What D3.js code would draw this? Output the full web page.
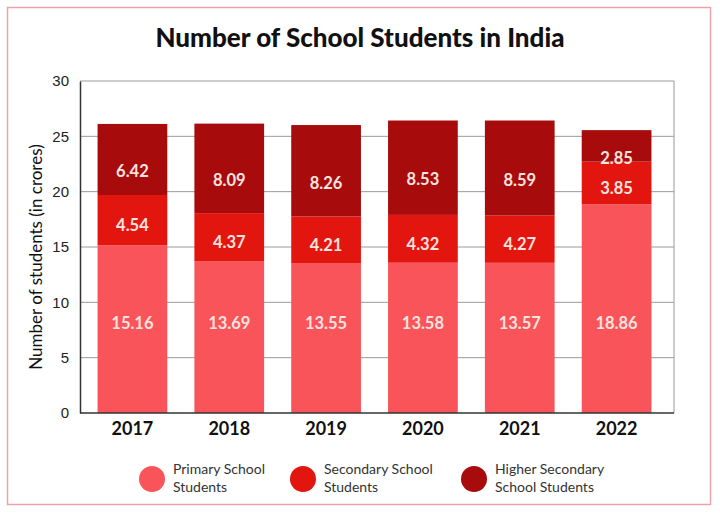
<!DOCTYPE html>
<html>
<head>
<meta charset="utf-8">
<script src="https://cdn.jsdelivr.net/npm/d3@7"></script>
<style>
  body { margin: 0; background: #fff; }
  text { font-family: Lato, "Open Sans", sans-serif; }
</style>
</head>
<body>
<div id="chart"></div>
<script>
var years = ["2017", "2018", "2019", "2020", "2021", "2022"];
var primary = [15.16, 13.69, 13.55, 13.58, 13.57, 18.86];
var secondary = [4.54, 4.37, 4.21, 4.32, 4.27, 3.85];
var higher = [6.42, 8.09, 8.26, 8.53, 8.59, 2.85];
var yTicks = [0, 5, 10, 15, 20, 25, 30];

var seriesNames = ["Primary School Students", "Secondary School Students", "Higher Secondary School Students"];
var legendLines = [["Primary School", "Students"], ["Secondary School", "Students"], ["Higher Secondary", "School Students"]];
var colors = ["#f9545a", "#e3150f", "#a80b0c"];

var width = 720, height = 513;
var plot = {left: 80, right: 674, top: 81, bottom: 413};

var svg = d3.select("#chart").append("svg")
  .attr("width", width)
  .attr("height", height);

// outer pink frame
svg.append("rect")
  .attr("x", 7.5).attr("y", 7.5)
  .attr("width", 703).attr("height", 497)
  .attr("fill", "none")
  .attr("stroke", "#eea3aa")
  .attr("stroke-width", 1.5);

svg.append("text")
  .attr("x", 360).attr("y", 47)
  .attr("text-anchor", "middle")
  .attr("font-size", 26)
  .attr("font-weight", 900)
  .attr("fill", "#111")
  .text("Number of School Students in India");

var x = d3.scaleBand()
  .domain(years)
  .range([84, 665])
  .paddingInner(0.28)
  .paddingOuter(0.14);

var y = d3.scaleLinear()
  .domain([0, 30])
  .range([plot.bottom, plot.top]);

// gridlines
svg.append("g")
  .selectAll("line")
  .data(yTicks.filter(function (d) { return d > 0; }))
  .enter().append("line")
  .attr("x1", plot.left).attr("x2", plot.right)
  .attr("y1", function (d) { return y(d); })
  .attr("y2", function (d) { return y(d); })
  .attr("stroke", "#9a9a9a")
  .attr("stroke-width", 1);

svg.append("line")
  .attr("x1", plot.right).attr("x2", plot.right)
  .attr("y1", plot.top).attr("y2", plot.bottom)
  .attr("stroke", "#9a9a9a");

var data = years.map(function (yr, i) {
  return {year: yr, primary: primary[i], secondary: secondary[i], higher: higher[i]};
});
var stack = d3.stack().keys(["primary", "secondary", "higher"])(data);

var layer = svg.selectAll(".layer")
  .data(stack)
  .enter().append("g")
  .attr("class", "layer")
  .attr("fill", function (d, i) { return colors[i]; });

layer.selectAll("rect")
  .data(function (d) { return d; })
  .enter().append("rect")
  .attr("x", function (d) { return x(d.data.year); })
  .attr("width", x.bandwidth())
  .attr("y", function (d) { return y(d[1]); })
  .attr("height", function (d) { return y(d[0]) - y(d[1]); });

// value labels
var shift = [0, 5, 12];
layer.each(function (s, k) {
  d3.select(this).selectAll("text")
    .data(s)
    .enter().append("text")
    .attr("x", function (d) { return x(d.data.year) + x.bandwidth() / 2; })
    .attr("y", function (d) {
      if (k === 0) return y(8.1);
      return (y(d[0]) + y(d[1])) / 2 + shift[k];
    })
    .attr("dy", "0.35em")
    .attr("text-anchor", "middle")
    .attr("font-size", 16.5)
    .attr("font-weight", 700)
    .attr("fill", "#fde3df")
    .text(function (d) { return (d[1] - d[0]).toFixed(2); });
});

// axes
var yAxis = svg.append("g")
  .attr("transform", "translate(" + plot.left + ",0)")
  .call(d3.axisLeft(y).tickValues(yTicks).tickSize(0).tickPadding(11));
yAxis.select(".domain").attr("stroke", "#333").attr("stroke-width", 1.5);
yAxis.selectAll("text")
  .attr("font-size", 15)
  .attr("fill", "#222")
  .style("font-family", "'Liberation Sans Narrow', 'Liberation Sans', sans-serif");

var xAxis = svg.append("g")
  .attr("transform", "translate(0," + plot.bottom + ")")
  .call(d3.axisBottom(x).tickSize(0).tickPadding(9));
xAxis.select(".domain").remove();
svg.append("line")
  .attr("x1", plot.left).attr("x2", plot.right)
  .attr("y1", plot.bottom).attr("y2", plot.bottom)
  .attr("stroke", "#333").attr("stroke-width", 1.5);
xAxis.selectAll("text")
  .attr("font-size", 18)
  .attr("font-weight", 700)
  .attr("fill", "#111")
  .style("font-family", "Lato, sans-serif");

svg.append("text")
  .attr("transform", "translate(42," + ((plot.top + plot.bottom) / 2 + 10) + ") rotate(-90)")
  .attr("text-anchor", "middle")
  .attr("font-size", 17)
  .attr("fill", "#111")
  .text("Number of students (in crores)");

// legend
var legendX = [152, 303, 474];
var legend = svg.selectAll(".legend")
  .data(seriesNames)
  .enter().append("g")
  .attr("class", "legend")
  .attr("transform", function (d, i) { return "translate(" + legendX[i] + ",479)"; });

legend.append("circle")
  .attr("r", 13)
  .attr("fill", function (d, i) { return colors[i]; });

legend.append("text")
  .attr("x", 21)
  .attr("y", -5)
  .attr("font-size", 14)
  .attr("fill", "#333")
  .selectAll("tspan")
  .data(function (d, i) { return legendLines[i]; })
  .enter().append("tspan")
  .attr("x", 21)
  .attr("dy", function (d, j) { return j === 0 ? 0 : "1.25em"; })
  .text(function (d) { return d; });
</script>
</body>
</html>
